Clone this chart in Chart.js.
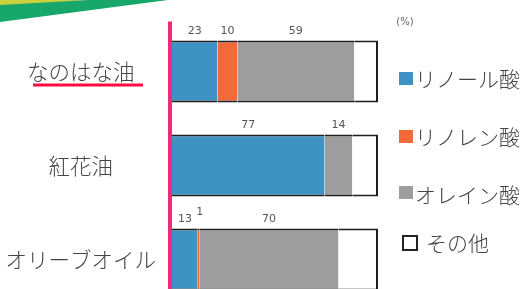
<!DOCTYPE html>
<html><head><meta charset="utf-8">
<script src="https://cdn.jsdelivr.net/npm/chart.js@4"></script>
<style>
html,body{margin:0;padding:0;background:#fff;overflow:hidden;width:526px;height:289px}
#wrap{position:absolute;left:0;top:0;width:526px;height:320px}
</style></head><body>
<div id="wrap"><canvas id="c" width="526" height="320"></canvas></div>
<script>
const categories = ['なのはな油', '紅花油', 'オリーブオイル'];
const seriesNames = ['リノール酸', 'リノレン酸', 'オレイン酸', 'その他'];
const linoleic = [23, 77, 13];
const linolenic = [10, 0, 1];
const oleic = [59, 14, 70];
const other = [12, 13, 20];
const unitLabel = '(%)';

const colors = ['#3f93c4', '#f26a3c', '#9d9d9f', '#ffffff'];
const JP = '"Noto Sans CJK JP", "Noto Sans", sans-serif';

const midBorder = {top: 2, bottom: 2, left: 0, right: 0};
const endBorder = {top: 2, bottom: 2, left: 0, right: 2};

const decoPlugin = {
  id: 'deco',
  beforeDraw(chart) {
    const ctx = chart.ctx;
    ctx.save();
    ctx.fillStyle = '#c9d23c';
    ctx.beginPath(); ctx.moveTo(0,0); ctx.lineTo(90,0); ctx.lineTo(0,6); ctx.closePath(); ctx.fill();
    ctx.fillStyle = '#17a76b';
    ctx.beginPath(); ctx.moveTo(0,5); ctx.lineTo(88,0); ctx.lineTo(168,0); ctx.lineTo(0,22); ctx.closePath(); ctx.fill();
    ctx.restore();
  },
  afterDatasetsDraw(chart) {
    const ctx = chart.ctx;
    const area = chart.chartArea;
    ctx.save();
    // value labels
    ctx.font = '11px "DejaVu Sans", sans-serif';
    ctx.fillStyle = '#555';
    ctx.textAlign = 'center';
    ctx.textBaseline = 'middle';
    for (let d = 0; d < 3; d++) {
      const meta = chart.getDatasetMeta(d);
      const vals = chart.data.datasets[d].data;
      meta.data.forEach((el, i) => {
        const v = vals[i];
        if (!v) return;
        const p = el.getProps(['x', 'y', 'base', 'height'], true);
        const cx = (p.x + p.base) / 2;
        const top = p.y - p.height / 2;
        const dy = v < 5 ? 16 : 9;
        ctx.fillText(String(v), cx + (v < 5 ? 1 : 0), top - dy);
      });
    }
    // pink axis line
    ctx.fillStyle = '#ee2a7b';
    ctx.fillRect(area.left - 4, area.top - 3, 4, chart.height);
    // red underline below first category
    const ys = chart.scales.y;
    const y0 = ys.getPixelForTick(0);
    ctx.fillStyle = '#ff0a3c';
    ctx.fillRect(33, y0 + 12, 110, 3);
    // unit
    ctx.fillStyle = '#666';
    ctx.font = '10px "DejaVu Sans", sans-serif';
    ctx.fillText(unitLabel, 405, 22);
    // legend
    const ly = [79, 137, 195, 243];
    ctx.textAlign = 'left';
    ctx.font = '300 21px ' + JP;
    chart.data.datasets.forEach((ds, i) => {
      const y = ly[i];
      if (i === 3) {
        ctx.fillStyle = '#fff';
        ctx.fillRect(403, y - 7, 14, 14);
        ctx.strokeStyle = '#222';
        ctx.lineWidth = 2;
        ctx.strokeRect(403, y - 7, 14, 14);
        ctx.fillStyle = '#444';
        ctx.fillText(ds.label, 426, y);
      } else {
        ctx.fillStyle = ds.backgroundColor;
        const sy = i === 2 ? y - 9 : y - 7;
        ctx.fillRect(399, sy, 14, 13);
        ctx.fillStyle = '#444';
        ctx.fillText(ds.label, 415, y);
      }
    });
    ctx.restore();
  }
};

new Chart(document.getElementById('c'), {
  type: 'bar',
  data: {
    labels: categories,
    datasets: [
      {label: seriesNames[0], data: linoleic, backgroundColor: colors[0], borderColor: '#1e1e1e', borderWidth: midBorder, borderSkipped: false},
      {label: seriesNames[1], data: linolenic, backgroundColor: colors[1], borderColor: '#1e1e1e', borderWidth: midBorder, borderSkipped: false},
      {label: seriesNames[2], data: oleic, backgroundColor: colors[2], borderColor: '#1e1e1e', borderWidth: midBorder, borderSkipped: false},
      {label: seriesNames[3], data: other, backgroundColor: colors[3], borderColor: '#1e1e1e', borderWidth: endBorder, borderSkipped: false}
    ]
  },
  options: {
    indexAxis: 'y',
    responsive: false,
    animation: false,
    events: [],
    layout: {padding: {left: 0, right: 148, top: 24.5, bottom: 13.5}},
    datasets: {bar: {categoryPercentage: 1, barPercentage: 0.66}},
    plugins: {legend: {display: false}, tooltip: {enabled: false}},
    scales: {
      x: {stacked: true, min: 0, max: 104, display: false},
      y: {
        stacked: true,
        grid: {display: false, drawTicks: false},
        border: {display: false},
        ticks: {
          crossAlign: 'center',
          padding: 16,
          color: '#444',
          font: {family: JP, size: 21.5, weight: 300}
        },
        afterFit(scale) { scale.width = 172; scale.paddingTop = 0; scale.paddingBottom = 0; }
      }
    }
  },
  plugins: [decoPlugin]
});
</script>
</body></html>
